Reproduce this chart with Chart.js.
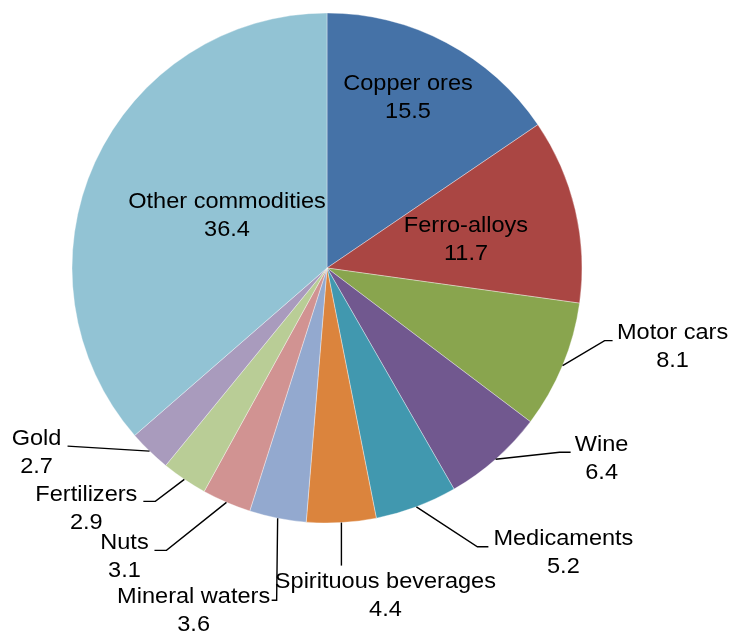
<!DOCTYPE html>
<html>
<head>
<meta charset="utf-8">
<script src="https://cdn.jsdelivr.net/npm/chart.js@4.4.1/dist/chart.umd.min.js"></script>
<style>
    html, body { margin: 0; padding: 0; background: #ffffff; }
    #wrap { position: relative; width: 731px; height: 633px; }
</style>
</head>
<body>
<div id="wrap"><canvas id="grafica"></canvas></div>
<script>
'use strict';

// ── Datos ─────────────────────────────────────────────────────
const categorias = ['Copper ores', 'Ferro-alloys', 'Motor cars', 'Wine', 'Medicaments',
    'Spirituous beverages', 'Mineral waters', 'Nuts', 'Fertilizers', 'Gold', 'Other commodities'];
const valores = [15.5, 11.7, 8.1, 6.4, 5.2, 4.4, 3.6, 3.1, 2.9, 2.7, 36.4];
const colores = ['#4572A7', '#AA4643', '#89A54E', '#71588F', '#4198AF',
    '#DB843D', '#93A9CF', '#D19392', '#B9CD96', '#A99BBD', '#92C3D4'];

// ── Colocación de etiquetas (estilo Excel) ────────────────────
// inside: centro del bloque relativo al centro de la torta
// outside: codo relativo al borde, tramo horizontal y texto relativo al final de la guía
const colocacion = [
    { inside: true, dx: 81, dy: -170 },
    { inside: true, dx: 139, dy: -28 },
    { elbow: [42, -25], tail: 8, text: [60, -8] },
    { elbow: [64, -7], tail: 11, text: [31, -7] },
    { elbow: [61, 40], tail: 11, text: [75, -8] },
    { elbow: [0, 43], tail: 0, text: [44, 16] },
    { elbow: [-1, 82], tail: -5, text: [-78, -3] },
    { elbow: [-60, 48], tail: -12, text: [-30, -7] },
    { elbow: [-29, 22], tail: -12, text: [-57, -6] },
    { elbow: [-82, -5], tail: 0, text: [-31, -7] },
    { inside: true, dx: -100, dy: -52 }
];

// Texto algo ensanchado, como en el original
const FUENTE = '22px "Liberation Sans", Arial, sans-serif';
const ESCALA_X = 1.07;
const INTERLINEA = 28;

function textoAncho(ctx, txt, x, y) {
    ctx.save();
    ctx.translate(x, y);
    ctx.scale(ESCALA_X, 1);
    ctx.fillText(txt, 0, 0);
    ctx.restore();
}

function dibujarBloque(ctx, x, y, nombre, valor) {
    textoAncho(ctx, nombre, x, y);
    textoAncho(ctx, valor.toFixed(1), x, y + INTERLINEA);
}

const etiquetasPlugin = {
    id: 'etiquetasTorta',
    afterDatasetsDraw(chart) {
        const ctx = chart.ctx;
        const arcos = chart.getDatasetMeta(0).data;
        ctx.save();
        ctx.font = FUENTE;
        ctx.fillStyle = '#000000';
        ctx.textAlign = 'center';
        ctx.textBaseline = 'middle';
        ctx.strokeStyle = '#000000';
        ctx.lineWidth = 1.4;

        arcos.forEach((arco, i) => {
            const p = colocacion[i];
            const { x, y, startAngle, endAngle, outerRadius } = arco.getProps(['x', 'y', 'startAngle', 'endAngle', 'outerRadius'], true);
            if (p.inside) {
                dibujarBloque(ctx, x + p.dx, y + p.dy - INTERLINEA / 2, categorias[i], valores[i]);
                return;
            }
            const medio = (startAngle + endAngle) / 2;
            const bx = x + Math.cos(medio) * outerRadius;
            const by = y + Math.sin(medio) * outerRadius;
            const cx = bx + p.elbow[0];
            const cy = by + p.elbow[1];
            const fx = cx + p.tail;

            ctx.beginPath();
            ctx.moveTo(bx, by);
            ctx.lineTo(cx, cy);
            if (p.tail !== 0) ctx.lineTo(fx, cy);
            ctx.stroke();

            dibujarBloque(ctx, fx + p.text[0], cy + p.text[1], categorias[i], valores[i]);
        });
        ctx.restore();
    }
};

new Chart(document.getElementById('grafica').getContext('2d'), {
    type: 'pie',
    data: {
        labels: categorias,
        datasets: [{
            data: valores,
            backgroundColor: colores,
            borderColor: 'rgba(255,255,255,0.6)',
            borderWidth: 0.6,
            hoverOffset: 0
        }]
    },
    options: {
        responsive: true,
        maintainAspectRatio: false,
        animation: false,
        events: [],
        radius: 255,
        layout: { padding: { left: 72, top: 13, right: 149, bottom: 110 } },
        plugins: {
            legend: { display: false },
            tooltip: { enabled: false },
            title: { display: false }
        }
    },
    plugins: [etiquetasPlugin]
});
</script>
</body>
</html>
